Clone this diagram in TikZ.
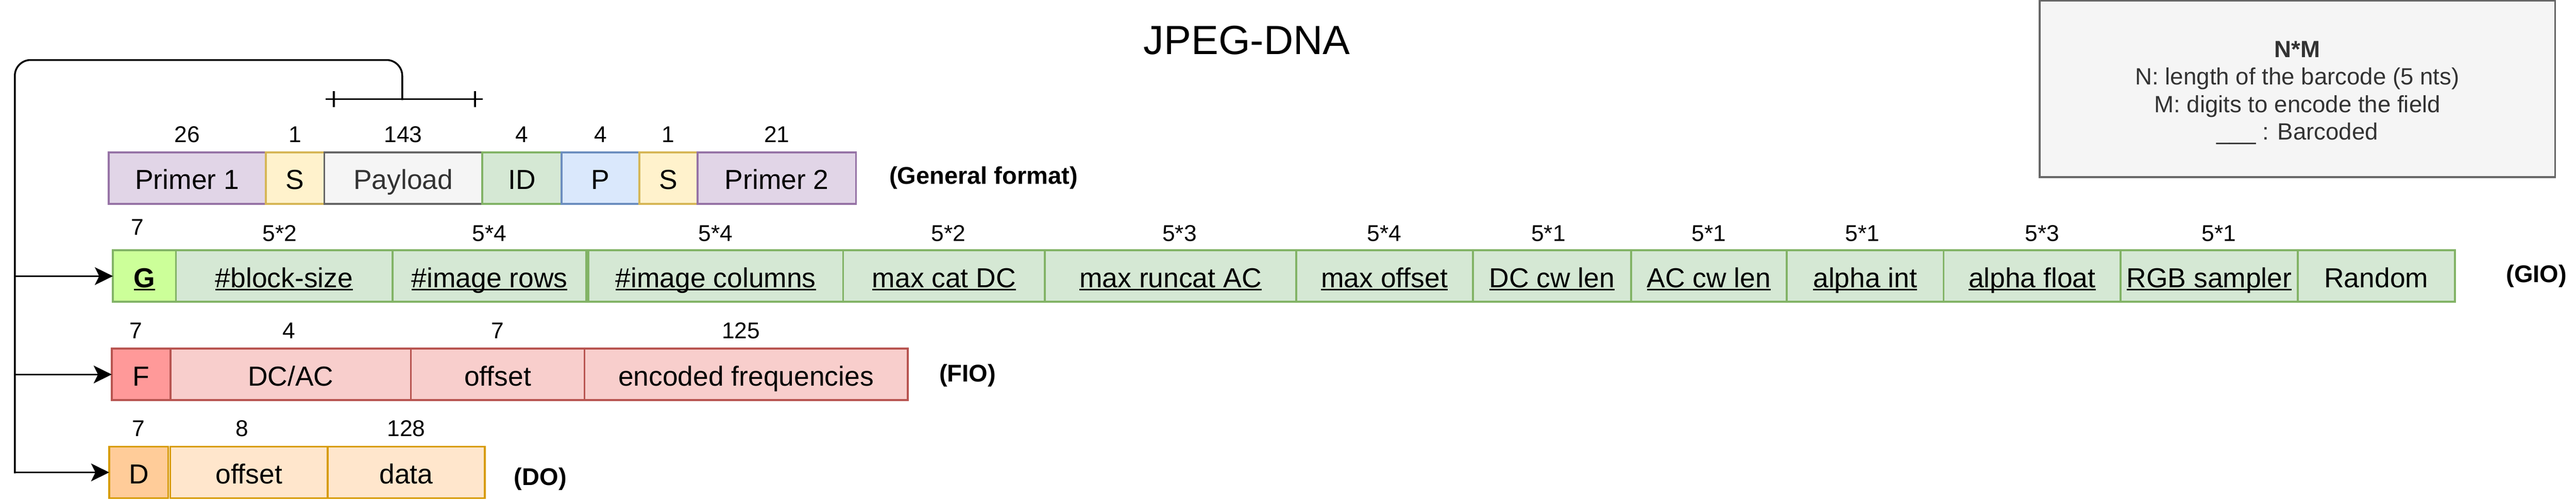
\documentclass[tikz,border=0pt]{standalone}
\usepackage{fontspec}
\setmainfont{Liberation Sans}
\usetikzlibrary{positioning,arrows.meta}
\definecolor{violetfill}{HTML}{E1D5E7}
\definecolor{violetline}{HTML}{9673A6}
\definecolor{yellowfill}{HTML}{FFF2CC}
\definecolor{yellowline}{HTML}{D6B656}
\definecolor{greyfill}{HTML}{F5F5F5}
\definecolor{greyline}{HTML}{666666}
\definecolor{greytext}{HTML}{333333}
\definecolor{greenfill}{HTML}{D5E8D4}
\definecolor{greenline}{HTML}{82B366}
\definecolor{limefill}{HTML}{CCFF99}
\definecolor{bluefill}{HTML}{DAE8FC}
\definecolor{blueline}{HTML}{6C8EBF}
\definecolor{redfill}{HTML}{F8CECC}
\definecolor{redline}{HTML}{B85450}
\definecolor{salmonfill}{HTML}{FF9999}
\definecolor{orangefill}{HTML}{FFE6CC}
\definecolor{orangeline}{HTML}{D79B00}
\definecolor{peachfill}{HTML}{FFCC99}
\newcommand{\barcoded}[1]{\setbox0=\hbox{#1}\rlap{\vrule height -0.06em depth 0.11em width \wd0}\box0}
\tikzset{
    cell/.style = {draw, rectangle, line width=1.4pt, inner sep=0pt, outer sep=0pt,
        minimum height=1.31cm, text height=17.9pt, text depth=1.6pt,
        font=\fontsize{19.9}{24}\selectfont},
    violetcell/.style = {cell, fill=violetfill, draw=violetline},
    yellowcell/.style = {cell, fill=yellowfill, draw=yellowline},
    greycell/.style = {cell, fill=greyfill, draw=greyline, text=greytext},
    greencell/.style = {cell, fill=greenfill, draw=greenline},
    limecell/.style = {cell, fill=limefill, draw=greenline},
    bluecell/.style = {cell, fill=bluefill, draw=blueline},
    redcell/.style = {cell, fill=redfill, draw=redline},
    salmoncell/.style = {cell, fill=salmonfill, draw=redline},
    orangecell/.style = {cell, fill=orangefill, draw=orangeline},
    peachcell/.style = {cell, fill=peachfill, draw=orangeline},
    num/.style = {inner sep=0pt, text depth=0pt, font=\fontsize{16.5}{20}\selectfont},
    tag/.style = {inner sep=0pt, font=\bfseries\fontsize{17.5}{21}\selectfont},
    wire/.style = {draw, line width=1.3pt},
    arrow/.style = {wire, -{Stealth[length=4.6mm, width=4.5mm, inset=1.1mm]}},
    keybox/.style = {draw=greyline, fill=greyfill, line width=1.4pt,
        minimum width=13.1cm, minimum height=4.48cm},
    keytext/.style = {text=greytext, align=center, inner sep=0pt,
        font=\fontsize{17}{19.9}\selectfont}
}
\begin{document}
\begin{tikzpicture}
    \useasboundingbox (0,0) rectangle (65.45,-12.75);
    \node[font=\fontsize{29.5}{35}\selectfont] (title) at (31.68,-1.03) {JPEG-DNA};
    \node[keybox] (key) at (58.37,-2.26) {};
    \node[keytext] (keytxt) at ([yshift=-0.1cm]key.center) {\textbf{N*M}\\N: length of the barcode (5 nts)\\M: digits to encode the field\\\_\_\_ : Barcoded};

    \node[violetcell, minimum width=3.99cm] (p1) at (4.755,-4.525) {Primer 1};
    \node[yellowcell, minimum width=1.49cm, right=0cm of p1] (s1) {S};
    \node[greycell, minimum width=4.01cm, right=0cm of s1] (pay) {Payload};
    \node[greencell, minimum width=2.02cm, right=0cm of pay] (id) {ID};
    \node[bluecell, minimum width=1.97cm, right=0cm of id] (par) {P};
    \node[yellowcell, minimum width=1.48cm, right=0cm of par] (s2) {S};
    \node[violetcell, minimum width=4.03cm, right=0cm of s2] (p2) {Primer 2};
    \node[tag, right=0.84cm of p2] (gen) {(General format)};
    \node[num, above=0.25cm of p1] (p1n) {26};
    \node[num, above=0.25cm of s1] (s1n) {1};
    \node[num, above=0.25cm of pay] (payn) {143};
    \node[num, above=0.25cm of id] (idn) {4};
    \node[num, above=0.25cm of par] (parn) {4};
    \node[num, above=0.25cm of s2] (s2n) {1};
    \node[num, above=0.25cm of p2] (p2n) {21};

    \node[limecell, minimum width=1.6cm] (g) at (3.67,-7.02) {\barcoded{\textbf{G}}};
    \node[greencell, minimum width=5.5cm, right=0cm of g] (blk) {\barcoded{\#block-size}};
    \node[greencell, minimum width=4.93cm, right=0cm of blk] (rows) {\barcoded{\#image rows}};
    \node[greencell, minimum width=6.47cm, right=0.05cm of rows] (cols) {\barcoded{\#image columns}};
    \node[greencell, minimum width=5.13cm, right=0cm of cols] (catdc) {\barcoded{max cat DC}};
    \node[greencell, minimum width=6.38cm, right=0cm of catdc] (runac) {\barcoded{max runcat AC}};
    \node[greencell, minimum width=4.49cm, right=0cm of runac] (maxoff) {\barcoded{max offset}};
    \node[greencell, minimum width=4.02cm, right=0cm of maxoff] (dccw) {\barcoded{DC cw len}};
    \node[greencell, minimum width=3.96cm, right=0cm of dccw] (accw) {\barcoded{AC cw len}};
    \node[greencell, minimum width=3.98cm, right=0cm of accw] (aint) {\barcoded{alpha int}};
    \node[greencell, minimum width=4.5cm, right=0cm of aint] (afloat) {\barcoded{alpha float}};
    \node[greencell, minimum width=4.5cm, right=0cm of afloat] (rgb) {\barcoded{RGB sampler}};
    \node[greencell, minimum width=3.99cm, right=0cm of rgb] (rnd) {Random};
    \node[tag, right=1.3cm of rnd] (gio) {(GIO)};
    \node[num, above=0.38cm of g, xshift=-0.18cm] (gn) {7};
    \node[num, above=0.22cm of blk, xshift=-0.11cm] (blkn) {5*2};
    \node[num, above=0.22cm of rows] (rowsn) {5*4};
    \node[num, above=0.22cm of cols] (colsn) {5*4};
    \node[num, above=0.22cm of catdc, xshift=0.11cm] (catdcn) {5*2};
    \node[num, above=0.22cm of runac, xshift=0.23cm] (runacn) {5*3};
    \node[num, above=0.22cm of maxoff] (maxoffn) {5*4};
    \node[num, above=0.22cm of dccw, xshift=-0.09cm] (dccwn) {5*1};
    \node[num, above=0.22cm of accw] (accwn) {5*1};
    \node[num, above=0.22cm of aint, xshift=-0.07cm] (aintn) {5*1};
    \node[num, above=0.22cm of afloat, xshift=0.26cm] (afloatn) {5*3};
    \node[num, above=0.22cm of rgb, xshift=0.25cm] (rgbn) {5*1};

    \node[salmoncell, minimum width=1.49cm] (f) at (3.585,-9.52) {F};
    \node[redcell, minimum width=6.11cm, right=0cm of f] (dcac) {DC/AC};
    \node[redcell, minimum width=4.41cm, right=0cm of dcac] (foff) {offset};
    \node[redcell, minimum width=8.21cm, right=0cm of foff] (enc) {encoded frequencies};
    \node[tag, right=0.8cm of enc, yshift=-0.03cm] (fio) {(FIO)};
    \node[num, above=0.25cm of f, xshift=-0.13cm] (fn) {7};
    \node[num, above=0.25cm of dcac, xshift=-0.05cm] (dcacn) {4};
    \node[num, above=0.25cm of foff] (foffn) {7};
    \node[num, above=0.25cm of enc, xshift=-0.13cm] (encn) {125};

    \node[peachcell, minimum width=1.5cm] (d) at (3.525,-12.01) {D};
    \node[orangecell, minimum width=4.0cm, right=0.05cm of d] (doff) {offset};
    \node[orangecell, minimum width=3.99cm, right=0cm of doff] (data) {data};
    \node[tag, right=0.74cm of data, yshift=-0.17cm] (dob) {(DO)};
    \node[num, above=0.26cm of d] (dn) {7};
    \node[num, above=0.26cm of doff, xshift=-0.17cm] (doffn) {8};
    \node[num, above=0.26cm of data] (datan) {128};

    \coordinate (barl) at (8.27,-2.52);
    \coordinate (barr) at (12.27,-2.52);
    \coordinate (stem) at (10.22,-2.52);
    \coordinate (trunk) at (0.377,-12.01);
    \draw[wire] (barl) -- (barr);
    \draw[wire] ([xshift=0.21cm]barl) ++(0,0.2) -- ++(0,-0.4);
    \draw[wire] ([xshift=-0.2cm]barr) ++(0,0.2) -- ++(0,-0.4);
    \draw[wire, line cap=rect, rounded corners=4mm] (stem) -- (10.22,-1.525) -- (0.377,-1.525) -- (trunk);
    \draw[arrow] (trunk) -- (d.west);
    \draw[arrow] (trunk |- g.west) -- (g.west);
    \draw[arrow] (trunk |- f.west) -- (f.west);
\end{tikzpicture}
\end{document}
